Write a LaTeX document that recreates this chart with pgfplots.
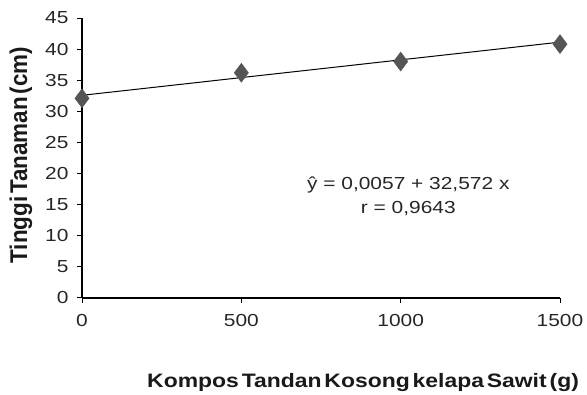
\documentclass[border=0pt]{standalone}
\usepackage{pgfplots}
\pgfplotsset{compat=1.18}
\usepackage{fontspec}
\setmainfont{Liberation Sans}
\newfontfamily\tickfont[FakeStretch=1.2]{Liberation Sans}
\newfontfamily\xlabfont[FakeStretch=1.18,WordSpace=0.45]{Liberation Sans}
\newfontfamily\ylabfont[WordSpace=0.45]{Liberation Sans}
\definecolor{mark}{HTML}{555555}
\begin{document}
\begin{tikzpicture}
\begin{axis}[
  scale only axis,
  width=478bp, height=280bp,
  xmin=0, xmax=1500, ymin=0, ymax=45,
  xtick={0,500,1000,1500}, ytick={0,5,...,45},
  axis x line*=bottom, axis y line*=left,
  axis line style={line width=1.2pt},
  tick style={line width=1pt, black},
  tick align=outside, major tick length=5bp,
  /pgf/number format/assume math mode=true,
  /pgf/number format/1000 sep={},
  tick label style={font=\tickfont\fontsize{17.5}{17.5}\selectfont, text=black!85},
  xticklabel style={yshift=-8bp},
  yticklabel style={xshift=-5bp},
  ylabel={\scalebox{1}[1.08]{\bfseries Tinggi Tanaman (cm)}},
  ylabel style={font=\ylabfont\fontsize{22.5}{22.5}\selectfont, text=black!90, anchor=center, at={(axis description cs:-0.128,0.51)}},
  xlabel={\bfseries Kompos Tandan Kosong kelapa Sawit (g)},
  xlabel style={font=\xlabfont\fontsize{19.5}{19.5}\selectfont, text=black!90, anchor=base, at={(axis description cs:0.588,-0.318)}},
  clip=false,
]
\addplot[black, line width=1pt, forget plot] coordinates {(0,32.572) (1500,41.122)};
\addplot[only marks, mark=diamond*, mark size=9.5bp, mark options={fill=mark, draw=mark}] coordinates {
(0,32.1) (500,36.2) (1000,38.0) (1500,40.8)};
\node[font=\tickfont\fontsize{17.5}{20}\selectfont, text=black!85, align=center] at (axis cs:1024,16.4) {ŷ = 0,0057 + 32,572 x\\[4pt] r = 0,9643};
\coordinate (O) at (rel axis cs:0,0);
\end{axis}
\path ([shift={(-82bp,-94bp)}]O) rectangle ([shift={(505bp,298bp)}]O);
\end{tikzpicture}
\end{document}
